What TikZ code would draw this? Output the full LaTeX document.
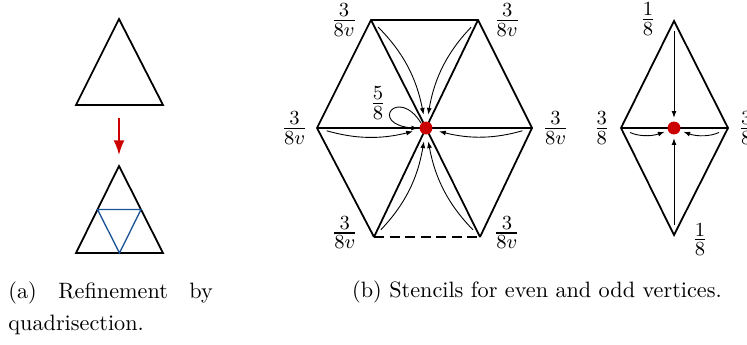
\documentclass[tikz,border=0pt]{standalone}
\usepackage{amsmath}
\usetikzlibrary{arrows.meta,calc,positioning}
\definecolor{DotRed}{RGB}{204,0,0}
\definecolor{MeshBlue}{RGB}{28,84,150}
\begin{document}
\begin{tikzpicture}[x=0.45pt,y=-0.45pt,>=Latex,
  wgt/.style={font=\fontsize{13.2}{16}\selectfont,inner sep=0pt},
  pull/.style={-{Latex[length=3pt,width=2.2pt]},thin,shorten <=4.5pt,shorten >=3pt},
  near/.style={shorten >=1.5pt},
  vtx/.style={circle,fill=DotRed,inner sep=0pt,minimum size=5.8pt}]
\useasboundingbox (0,0) rectangle (747,344);
% (a) refinement
\coordinate (t0) at (119,19);\coordinate (l0) at (76,105);\coordinate (r0) at (163,105);
\draw[thick] (l0)--(t0)--(r0)--cycle;
\coordinate (s0) at (119,118);\coordinate (e0) at (119,155);
\draw[->,DotRed,thick] (s0)--(e0);
\coordinate (t1) at (119,166);\coordinate (l1) at (76,253);\coordinate (r1) at (163,253);
\draw[thick] (l1)--(t1)--(r1)--cycle;
\draw[MeshBlue,semithick] ($(l1)!.5!(t1)$)--($(t1)!.5!(r1)$)--($(l1)!.5!(r1)$)--cycle;
\node[anchor=north west,inner sep=0pt,text width=92pt,align=justify,font=\linespread{1.2}\selectfont] (capA) at (8,281){(a) Refinement by quadrisection.};
% (b) even vertex
\coordinate (hc) at (426,128);
\coordinate (htl) at (371,20);\coordinate (htr) at (478,20);\coordinate (hl) at (317,128);
\coordinate (hr) at (532,128);\coordinate (hbl) at (374,237);\coordinate (hbr) at (480,237);
\draw[thick] (hbr)--(hr)--(htr)--(htl)--(hl)--(hbl);\draw[thick,dash pattern=on 4.5pt off 2.5pt] (hbl)--(hbr);
\foreach \v in {htl,htr,hbl,hbr} \draw[thick] (hc)--(\v);
\draw[line width=1.1pt] (hl)--(hr);
\node[vtx] (c) at (hc){};
\draw[pull] (htl) to[bend left=17] (c);\draw[pull] (htr) to[bend right=17] (c);
\draw[pull] (hbl) to[bend right=17] (c);\draw[pull] (hbr) to[bend left=17] (c);
\draw[pull] (hl) to[bend right=15] (c);\draw[pull] (hr) to[bend left=15] (c);
\draw[pull,shorten <=0pt,shorten >=0.5pt] (c.135) .. controls (398,86) and (368,124) .. (c.185);
\node[wgt] (w0) at (378,103){$\frac{5}{8}$};
\node[wgt,left=6pt of htl] (wtl){$\frac{3}{8v}$};\node[wgt,right=7pt of htr] (wtr){$\frac{3}{8v}$};
\node[wgt,left=4pt of hl] (wl){$\frac{3}{8v}$};\node[wgt,right=4.5pt of hr] (wr){$\frac{3}{8v}$};
\node[wgt,left=7pt of hbl,yshift=2pt] (wbl){$\frac{3}{8v}$};\node[wgt,right=6pt of hbr,yshift=2pt] (wbr){$\frac{3}{8v}$};
% (b) odd vertex
\coordinate (dc) at (674,128);\coordinate (dt) at (674,21);\coordinate (dl) at (621,128);
\coordinate (dr) at (728,128);\coordinate (db) at (674,235);
\draw[thick] (dt)--(dl)--(db)--(dr)--cycle;\draw[line width=1.1pt] (dl)--(dr);
\node[vtx] (d) at (dc){};
\draw[pull,near] (dt)--(d);\draw[pull,near] (db)--(d);
\draw[pull,near] (dl) to[bend right=23] (d);\draw[pull,near] (dr) to[bend left=23] (d);
\node[wgt,left=8pt of dt,yshift=1pt] (wdt){$\frac{1}{8}$};\node[wgt,right=8pt of db,yshift=-2pt] (wdb){$\frac{1}{8}$};
\node[wgt,left=5pt of dl] (wdl){$\frac{3}{8}$};\node[wgt,right=4.5pt of dr] (wdr){$\frac{3}{8}$};
\node[anchor=base] (capB) at (537,297){(b) Stencils for even and odd vertices.};
\end{tikzpicture}
\end{document}
